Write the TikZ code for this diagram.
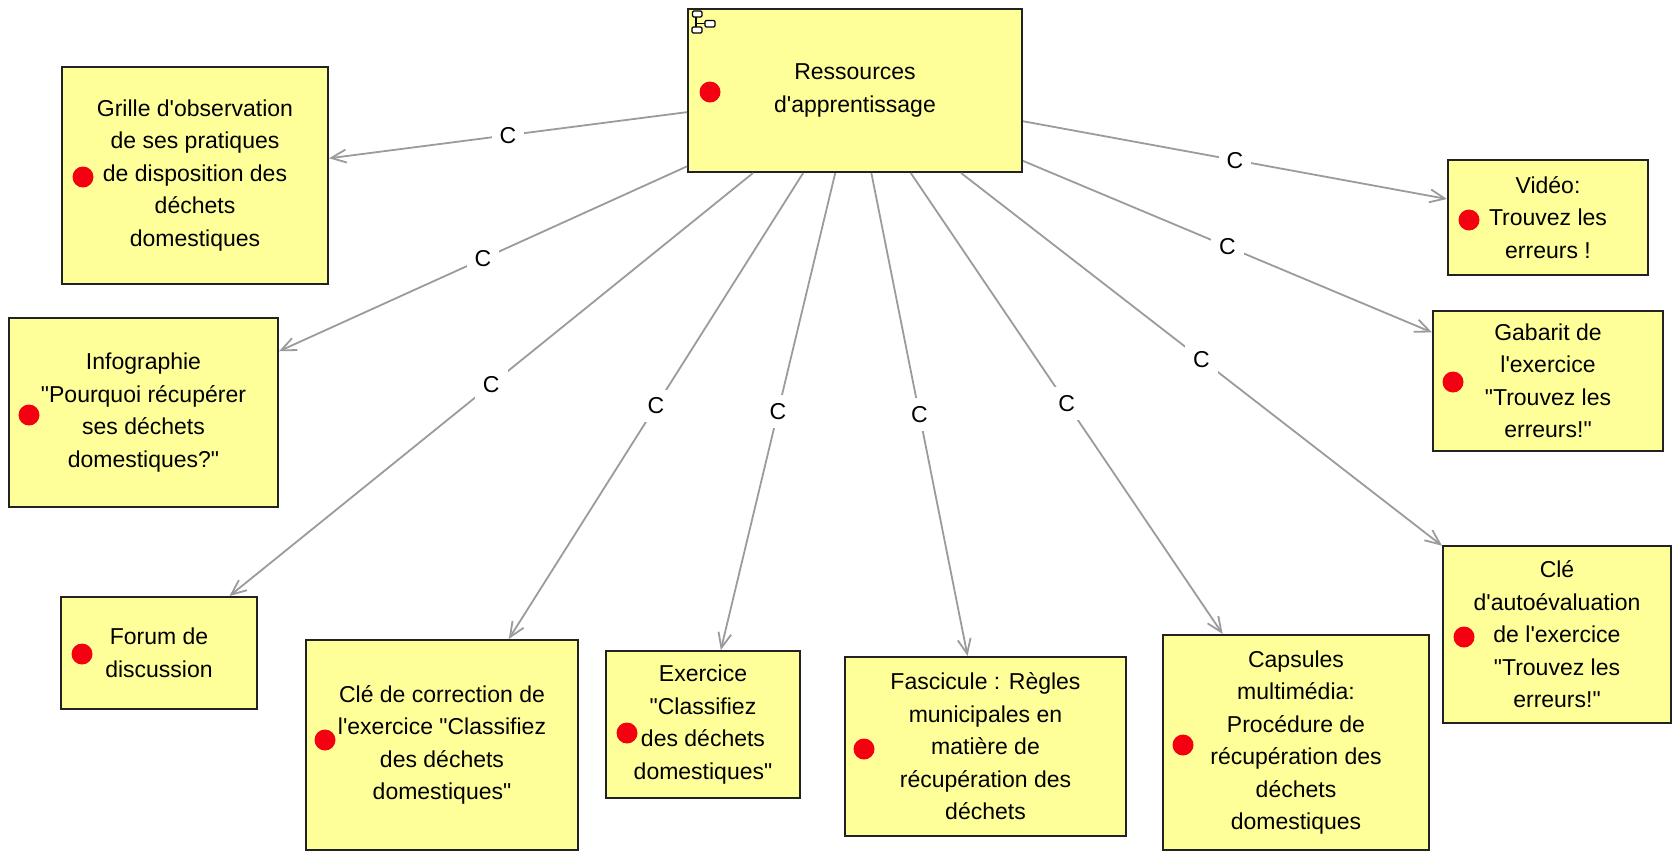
\documentclass[tikz,border=0pt]{standalone}
\usepackage{fontspec}
\setmainfont{Liberation Sans}[Ligatures=TeXOff]
\usetikzlibrary{arrows.meta}
\definecolor{notefill}{RGB}{255,255,153}
\definecolor{noteline}{RGB}{34,34,34}
\definecolor{linkgray}{RGB}{155,155,155}
\definecolor{dotred}{RGB}{245,0,16}
\tikzset{
  note/.style={draw=noteline, line width=1pt, fill=notefill, rectangle,
    inner sep=0pt, align=center, font=\fontsize{11.5pt}{16.25pt}\selectfont},
  link/.style={draw=linkgray, line width=0.9pt,
    -{Straight Barb[length=7.5pt,width=6.5pt,line width=0.9pt]}},
  lbl/.style={fill=white, inner sep=4pt, font=\fontsize{11.5pt}{14pt}\selectfont},
  flag/.style={fill=dotred},
  iconbox/.style={draw=black, fill=white, line width=0.6pt, rounded corners=0.6pt}
}
\begin{document}
\begin{tikzpicture}[x=0.5pt, y=-0.5pt]
\useasboundingbox (0,0) rectangle (1677,853);

% central resource node
\node[note, minimum width=167pt, minimum height=81.5pt] (c) at (855,90.5)
  {Ressources\\d'apprentissage};

% resource nodes
\node[note, minimum width=133pt, minimum height=108.5pt] (grille) at (195,175.5)
  {Grille d'observation\\de ses pratiques\\de disposition des\\déchets\\domestiques};
\node[note, minimum width=134.5pt, minimum height=94.5pt] (info) at (143.5,412.5)
  {Infographie\\"Pourquoi récupérer\\ses déchets\\domestiques?"};
\node[note, minimum width=98pt, minimum height=56pt] (forum) at (159,653)
  {Forum de\\discussion};
\node[note, minimum width=136pt, minimum height=105pt] (clecorr) at (442,745)
  {Clé de correction de\\l'exercice "Classifiez\\des déchets\\domestiques"};
\node[note, minimum width=97pt, minimum height=73.5pt] (exo) at (703,724.5)
  {Exercice\\"Classifiez\\des déchets\\domestiques"};
\node[note, minimum width=140.5pt, minimum height=89.5pt] (fasc) at (985.5,746.5)
  {Fascicule : Règles\\municipales en\\matière de\\récupération des\\déchets};
\node[note, minimum width=133pt, minimum height=107.5pt] (caps) at (1296,742.5)
  {Capsules\\multimédia:\\Procédure de\\récupération des\\déchets\\domestiques};
\node[note, minimum width=114pt, minimum height=88.5pt] (cleauto) at (1557,634.5)
  {Clé\\d'autoévaluation\\de l'exercice\\"Trouvez les\\erreurs!"};
\node[note, minimum width=115pt, minimum height=70pt] (gabarit) at (1548,381)
  {Gabarit de\\l'exercice\\"Trouvez les\\erreurs!"};
\node[note, minimum width=100pt, minimum height=57.5pt] (video) at (1548,217.5)
  {Vidéo:\\Trouvez les\\erreurs !};

% red status dots
\fill[flag] (710,92) circle[radius=5.25pt];
\fill[flag] (83,177) circle[radius=5.25pt];
\fill[flag] (29,415) circle[radius=5.25pt];
\fill[flag] (82,654) circle[radius=5.25pt];
\fill[flag] (325,740) circle[radius=5.25pt];
\fill[flag] (627,733) circle[radius=5.25pt];
\fill[flag] (864,749) circle[radius=5.25pt];
\fill[flag] (1183,745) circle[radius=5.25pt];
\fill[flag] (1464,637) circle[radius=5.25pt];
\fill[flag] (1453,382) circle[radius=5.25pt];
\fill[flag] (1469,220) circle[radius=5.25pt];

% hierarchy icon in the corner of the central node
\draw[line width=0.7pt] (696,17) -- (696,30) (696,23.5) -- (705,23.5);
\draw[iconbox] (692.5,11) rectangle (702,17);
\draw[iconbox] (705,20.5) rectangle (715,27);
\draw[iconbox] (692,27) rectangle (702,33);

% links
\draw[link] (c) -- node[lbl]{C} (grille);
\draw[link] (c) -- node[lbl]{C} (info);
\draw[link] (c) -- node[lbl]{C} (forum);
\draw[link] (c) -- node[lbl]{C} (clecorr);
\draw[link] (c) -- node[lbl]{C} (exo);
\draw[link] (c) -- node[lbl]{C} (fasc);
\draw[link] (c) -- node[lbl]{C} (caps);
\draw[link] (c) -- node[lbl]{C} (cleauto);
\draw[link] (c) -- node[lbl]{C} (gabarit);
\draw[link] (c) -- node[lbl]{C} (video);
\end{tikzpicture}
\end{document}
